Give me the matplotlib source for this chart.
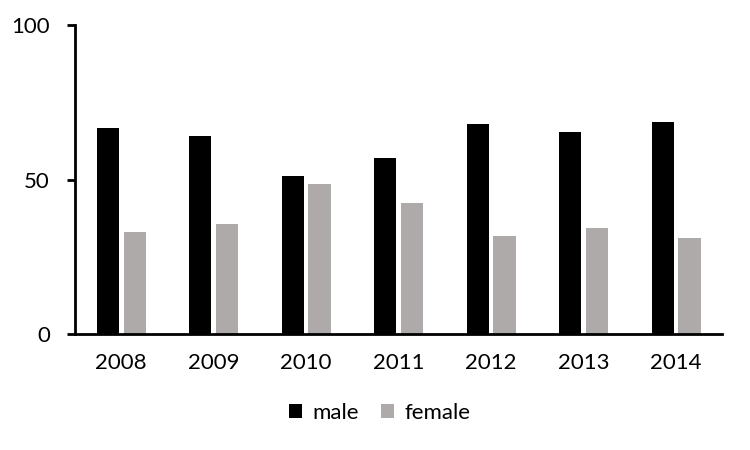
import matplotlib
matplotlib.use('Agg')
import matplotlib.pyplot as plt
import numpy as np

years = ['2008', '2009', '2010', '2011', '2012', '2013', '2014']
male = [66.6, 64.2, 51.2, 57.1, 68.0, 65.3, 68.5]
female = [33.1, 35.6, 48.5, 42.5, 31.6, 34.4, 31.1]

plt.rcParams['font.family'] = ['Lato', 'DejaVu Sans']

fig = plt.figure(figsize=(7.5, 4.5), dpi=100)
ax = fig.add_axes([0.1, 0.258, 0.863, 0.686])

x = np.arange(len(years))
w = 0.24
ax.bar(x - 0.145, male, w, color='black', label='male')
ax.bar(x + 0.145, female, w, color='#aeaaaa', label='female')

ax.set_xlim(-0.5, len(years) - 0.5)
ax.set_ylim(0, 100)
ax.set_yticks([0, 50, 100])
ax.set_xticks(x)
ax.set_xticklabels(years)
ax.tick_params(axis='x', length=0, pad=14, labelsize=16)
ax.tick_params(axis='y', length=6, width=2, direction='out', pad=12, labelsize=16)

for s in ['top', 'right']:
    ax.spines[s].set_visible(False)
ax.spines['left'].set_linewidth(2)
ax.spines['bottom'].set_linewidth(2)

fig.legend(loc='center', bbox_to_anchor=(0.506, 0.083), ncol=2, frameon=False,
           fontsize=16, handlelength=0.6, handleheight=0.6, handletextpad=0.45,
           columnspacing=1.0)

plt.savefig('out.png', dpi=100)
